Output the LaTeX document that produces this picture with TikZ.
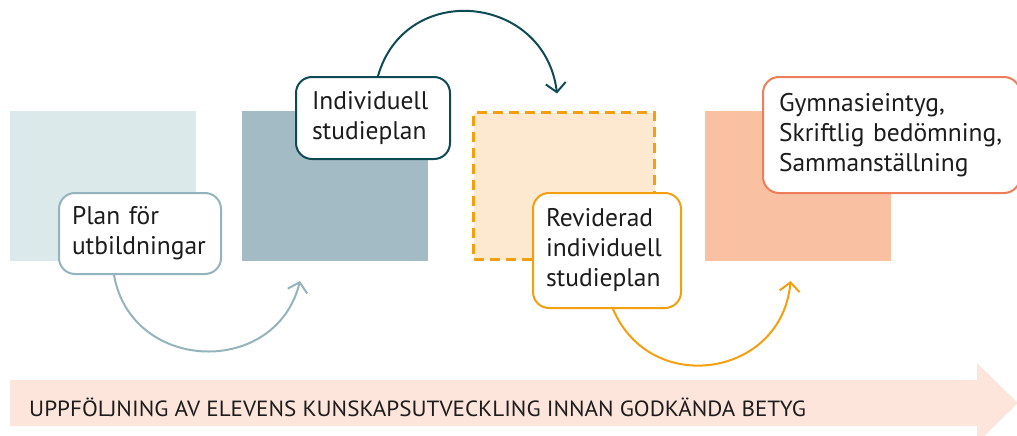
\documentclass[tikz,border=0pt]{standalone}
\usepackage{fontspec}
\setmainfont{PT Sans}
\usetikzlibrary{arrows.meta,calc}
\definecolor{sqA}{HTML}{DCE9EA}
\definecolor{sqB}{HTML}{A3BBC4}
\definecolor{sqC}{HTML}{FDE8D0}
\definecolor{sqD}{HTML}{F9C0A1}
\definecolor{planc}{HTML}{95B3BD}
\definecolor{indc}{HTML}{0E4A53}
\definecolor{revc}{HTML}{F3A010}
\definecolor{gymc}{HTML}{EE7D5A}
\definecolor{trackc}{HTML}{FDE5DC}
\definecolor{textc}{HTML}{1C1C1C}
\begin{document}
\begin{tikzpicture}[x=1pt,y=1pt,
  sq/.style={minimum width=186pt,minimum height=150pt,inner sep=0pt,outer sep=0pt},
  lbl/.style={fill=white,line width=2pt,rounded corners=16pt,align=left,
    font=\fontsize{25.5}{30}\selectfont,inner sep=0pt,text=textc},
  conn/.style={line width=2pt,-{Straight Barb[length=9pt,width=20pt]}}]
\useasboundingbox (0,0) rectangle (1017,-436);
\clip (0,0) rectangle (1017,-436);
% bottom arrow
\fill[trackc] (10,-380) -- (977,-380) -- (977,-363) -- (1018,-403) -- (977,-443) -- (977,-426) -- (10,-426) -- cycle;
\node[anchor=west,font=\fontsize{22}{26}\selectfont,text=textc,inner sep=0pt] (track) at (29,-407) {\scalebox{1.05}[1]{UPPFÖLJNING AV ELEVENS KUNSKAPSUTVECKLING INNAN GODKÄNDA BETYG}};
% squares
\node[sq,fill=sqA] (s1) at (103,-186) {};
\node[sq,fill=sqB] (s2) at (335,-186) {};
\node[sq,fill=sqC,draw=revc,line width=3pt,dash pattern=on 10pt off 6pt,minimum width=181pt,minimum height=147pt] (s3) at (564,-186) {};
\node[sq,fill=sqD] (s4) at (797.5,-186) {};
% labels
\node[lbl,draw=planc,minimum width=162pt,minimum height=81pt,text width=136pt] (plan) at (140,-233.5) {Plan för\\utbildningar};
\node[lbl,draw=indc,minimum width=154pt,minimum height=82pt,text width=122pt] (ind) at (373,-118) {Individuell\\studieplan};
\node[lbl,draw=revc,minimum width=148pt,minimum height=115pt,text width=122pt] (rev) at (607,-250.5) {Reviderad\\individuell\\studieplan};
\node[lbl,draw=gymc,minimum width=257pt,minimum height=116pt,text width=225pt] (gym) at (891.5,-135) {Gymnasieintyg,\\Skriftlig bedömning,\\Sammanställning};
% connectors
\draw[conn,draw=planc] ($(plan.south)+(-26,0)$) to[out=-80,in=-104,looseness=1.37] ($(s2.south)+(-35,-20)$);
\draw[conn,draw=indc] ($(ind.north)+(5,0)$) to[out=74,in=97,looseness=1.42] ($(s3.north)+(-7,19)$);
\draw[conn,draw=revc] ($(rev.south)+(6,0)$) to[out=-67,in=-95,looseness=1.37] ($(s4.south)+(-7,-20)$);
\end{tikzpicture}
\end{document}
